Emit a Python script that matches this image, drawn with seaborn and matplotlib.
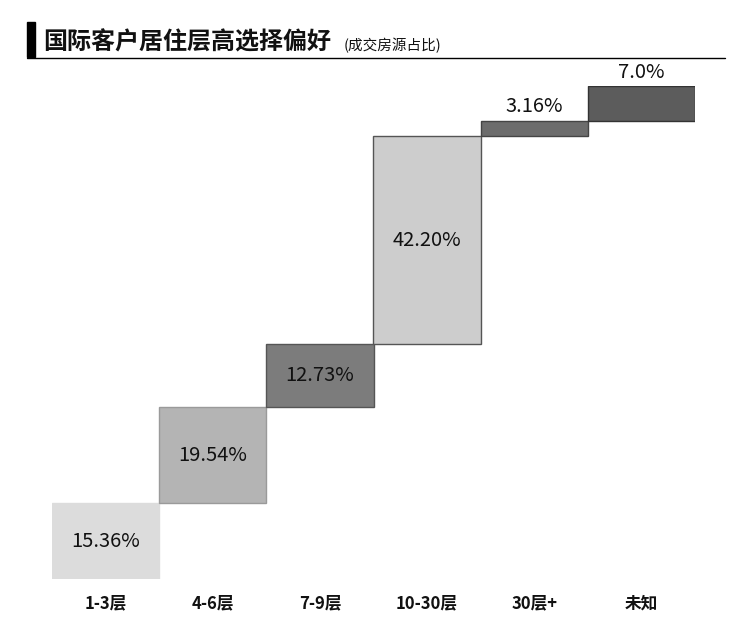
import matplotlib
matplotlib.use("Agg")
import matplotlib.pyplot as plt
import seaborn as sns
import numpy as np

categories = ["1-3层", "4-6层", "7-9层", "10-30层", "30层+", "未知"]
values = [15.36, 19.54, 12.73, 42.20, 3.16, 7.0]
labels = ["15.36%", "19.54%", "12.73%", "42.20%", "3.16%", "7.0%"]
colors = ["#dcdcdc", "#b4b4b4", "#7c7c7c", "#cdcdcd", "#6c6c6c", "#5c5c5c"]
edges = ["#dcdcdc", "#9a9a9a", "#555555", "#555555", "#444444", "#333333"]

sns.set_style("white")
plt.rcParams['font.family'] = ['Noto Sans CJK SC', 'DejaVu Sans']

bottoms = list(np.cumsum([0] + values[:-1]))

fig = plt.figure(figsize=(7.5, 6.28), dpi=100)
ax = fig.add_axes([52/750, 1-579/628, (695-52)/750, (579-86)/628])
for cat, v, b, c, e in zip(categories, values, bottoms, colors, edges):
    sns.barplot(x=[cat], y=[v], order=categories, bottom=b, color=c, width=1.0,
                edgecolor=e, linewidth=1.0, saturation=1, ax=ax)

ax.set_xlim(-0.5, 5.5)
ax.set_ylim(0, 100)
for i, (v, b, lab) in enumerate(zip(values, bottoms, labels)):
    if v > 10:
        ax.text(i, b + v/2, lab, ha="center", va="center", fontsize=14.5, color="#111111")
    else:
        ax.text(i, b + v + 0.7, lab, ha="center", va="bottom", fontsize=14.5, color="#111111")

ax.set_xlabel("")
ax.set_ylabel("")
ax.set_yticks([])
ax.tick_params(axis="x", length=0, pad=11)
for t in ax.get_xticklabels():
    t.set_fontweight("bold")
    t.set_fontsize(12)
    t.set_color("#111111")
for s in ax.spines.values():
    s.set_visible(False)

# title decorations
fig.patches.append(plt.Rectangle((27/750, 1-57/628), 8/750, 35/628, transform=fig.transFigure,
                                 color="black", zorder=5))
fig.lines.append(plt.Line2D([27/750, 725/750], [1-57.5/628, 1-57.5/628], transform=fig.transFigure,
                            color="black", linewidth=1.0))
fig.text(43/750, 1-42/628, "国际客户居住层高选择偏好", fontsize=17.3, fontweight="bold",
         ha="left", va="center", color="#111111")
fig.text(344/750, 1-46/628, "(成交房源占比)", fontsize=10.5, ha="left", va="center", color="#111111")

fig.savefig("out.png", dpi=100)
